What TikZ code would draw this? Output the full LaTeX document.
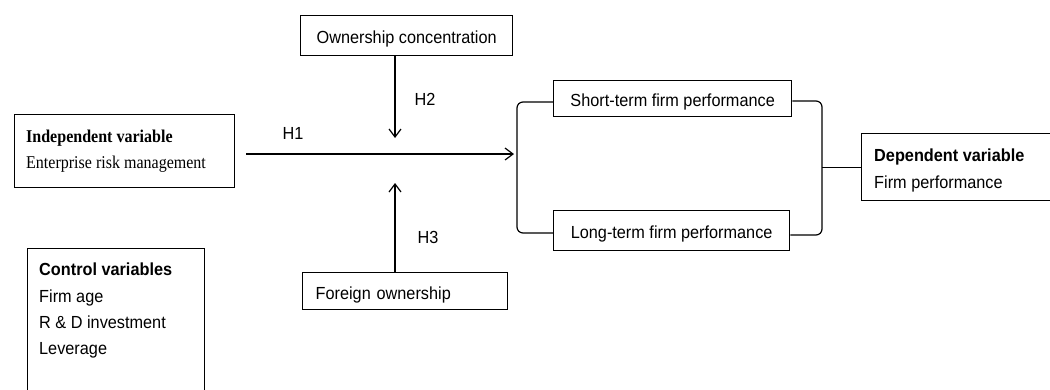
\documentclass[tikz,border=0pt]{standalone}
\usepackage{fontspec}
\setmainfont[FakeStretch=0.93]{Liberation Sans}
\newfontfamily\timesf[FakeStretch=0.89]{Liberation Serif}
\usetikzlibrary{arrows.meta,calc}
\begin{document}
\begin{tikzpicture}[x=1pt,y=-1pt,
  font=\fontsize{17.5}{26}\selectfont,
  box/.style={draw, line width=1.3pt, inner sep=0pt, text height=16.5pt, text depth=0pt},
  frame/.style={draw, line width=1.3pt, inner sep=0pt, anchor=north west},
  conn/.style={line width=1.2pt},
  arr/.style={conn, -{Straight Barb[length=8pt,width=12pt,line width=1.2pt]}},
  lbl/.style={inner sep=0pt},
  txt/.style={inner sep=0pt, anchor=north west, align=left}]
\clip (0,0) rectangle (1050,389);
\fill[white] (0,0) rectangle (1050,389);
% boxes
\node[frame, minimum width=220, minimum height=73] (indep) at (14,114) {};
\node[txt, font=\fontsize{18}{26}\selectfont\timesf] (indeptxt) at (26,130)
  {\textbf{Independent variable}\\Enterprise risk management};
\node[box, anchor=north west, minimum width=212, minimum height=40] (oc) at (300,15) {Ownership concentration};
\node[box, anchor=north west, minimum width=238, minimum height=36] (st) at (553,80) {Short-term firm performance};
\node[box, anchor=north west, minimum width=236, minimum height=40] (lt) at (553,210) {Long-term firm performance};
\node[frame, minimum width=220, minimum height=67] (dep) at (861,133) {};
\node[txt, font=\fontsize{17.5}{27}\selectfont] (deptxt) at (874,149)
  {\textbf{Dependent variable}\\Firm performance};
\node[box, anchor=north west, minimum width=205, minimum height=37, text width=179, inner xsep=13, align=left] (fo) at (302,272)
  {Foreign ownership};
\node[frame, minimum width=177, minimum height=160] (ctrl) at (27,248) {};
\node[txt, font=\fontsize{17.5}{26.3}\selectfont] (ctrltxt) at (39,263)
  {\textbf{Control variables}\\Firm age\\R \& D investment\\Leverage};
% labels
\node[lbl] (h1) at (293,133) {H1};
\node[lbl] (h2) at (425,99) {H2};
\node[lbl] (h3) at (428,237) {H3};
% coordinates
\coordinate (mod) at (395,154);
\coordinate (h1e) at (514,154);
\coordinate (bl) at (517,0);
\coordinate (br) at (822,0);
\coordinate (stl) at (0,102);
\coordinate (ltl) at (0,233);
\coordinate (str) at (0,101);
\coordinate (ltr) at (0,235);
% connectors
\draw[arr, shorten <=11pt] (indep.east |- h1e) -- (h1e);
\draw[arr] (oc.south -| mod) -- ($(mod)+(0,-16)$);
\draw[arr] (fo.north -| mod) -- ($(mod)+(0,29)$);
\draw[conn, rounded corners=6] (st.west |- stl) -- (bl |- stl) -- (bl |- ltl) -- (lt.west |- ltl);
\draw[conn, rounded corners=6] (st.east |- str) -- (br |- str) -- (br |- ltr) -- (lt.east |- ltr);
\draw[conn] (br |- dep.west) -- (dep.west);
\end{tikzpicture}
\end{document}
